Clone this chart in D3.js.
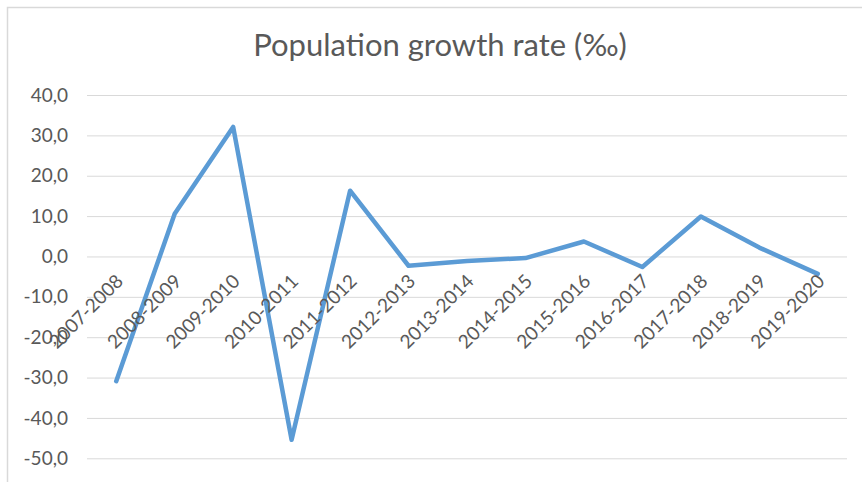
<!DOCTYPE html>
<html><head><meta charset="utf-8">
<script src="https://cdn.jsdelivr.net/npm/d3@7"></script>
<style>body{margin:0;background:#fff}svg{display:block}</style>
</head><body>
<svg id="c" width="862" height="482"></svg>
<script>
const categories = ["2007-2008","2008-2009","2009-2010","2010-2011","2011-2012","2012-2013","2013-2014","2014-2015","2015-2016","2016-2017","2017-2018","2018-2019","2019-2020"];
const growthRate = [-30.9, 10.6, 32.1, -45.4, 16.3, -2.3, -1.1, -0.4, 3.7, -2.6, 9.9, 2.2, -4.3];
const yTicks = [40, 30, 20, 10, 0, -10, -20, -30, -40, -50];
const title = "Population growth rate (‰)";

const svg = d3.select("#c");
const font = "Lato, 'Open Sans', sans-serif";
// chart border
svg.append("path").attr("d","M7.5,482 V7.5 H862").attr("fill","none").attr("stroke","#d9d9d9").attr("stroke-width",1.5);

const x = d3.scaleBand().domain(categories).range([87, 847]);
const y = d3.scaleLinear().domain([-50, 40]).range([458.3, 95]);

svg.append("text").attr("x", 440).attr("y", 56).attr("text-anchor","middle")
  .attr("font-family", font).attr("font-size", 31).attr("fill","#595959").text(title);

const yAxis = d3.axisLeft(y).tickValues(yTicks).tickSize(-(847-87)).tickPadding(19)
  .tickFormat(d => d3.format(".1f")(d).replace(".", ",").replace("−","-"));
const ga = svg.append("g").attr("transform","translate(87,0)").call(yAxis);
ga.select(".domain").remove();
ga.selectAll(".tick line").attr("stroke","#d9d9d9").attr("stroke-width",1);
ga.selectAll(".tick text").attr("font-family", font).attr("font-size", 19).attr("fill","#595959");

const line = d3.line().x((d,i) => x(categories[i]) + x.bandwidth()/2).y(d => y(d));
svg.append("path").datum(growthRate).attr("d", line).attr("fill","none")
  .attr("stroke","#5b9bd5").attr("stroke-width",4.5).attr("stroke-linejoin","round").attr("stroke-linecap","round");

const xAxis = d3.axisBottom(x).tickSize(0).tickPadding(0);
const gx = svg.append("g").attr("transform", `translate(0,${y(0)})`).call(xAxis);
gx.select(".domain").remove();
gx.selectAll(".tick text").attr("font-family", font).attr("font-size", 19).attr("fill","#595959")
  .attr("text-anchor","end").attr("dy", null).attr("y", 0)
  .attr("transform","translate(8,26) rotate(-45)");
</script>
</body></html>
